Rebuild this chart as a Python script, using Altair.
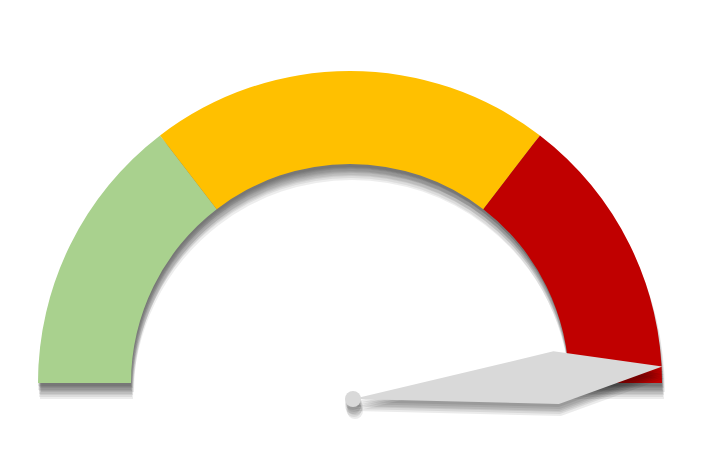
import math

import altair as alt
import pandas as pd

# gauge bands (values add up to the full half circle)
bands = ["Low", "Medium", "High"]
band_values = [35, 50, 35]
band_colors = ["#a9d18e", "#ffc000", "#c00000"]

# needle reading on the same 0..120 scale
needle_value = [116]

gauge = pd.DataFrame({"band": bands, "value": band_values, "idx": range(len(bands))})
needle = pd.DataFrame({"needle": needle_value})

# geometry (chart pixels)
CX, CY = 342, 375
R_OUT, R_IN = 312, 219
NX, NY = 345, 391
NEEDLE_LEN = 311
NEEDLE_PATH = "M0,0 L0.657,-0.085 L1,0 L0.657,0.085 Z"

theta = alt.Theta("value:Q", stack=True, scale=alt.Scale(range=[-math.pi / 2, math.pi / 2]))
order = alt.Order("idx:Q")
angle = alt.Angle("needle:Q", scale=alt.Scale(domain=[0, sum(band_values)], range=[180, 360]))

# blurred shadow = a pile of faint offset copies
arc_shadow = [(0, 3), (1, 4), (2, 5), (0, 7), (1, 8), (3, 9), (1, 11), (2, 12), (1, 14), (2, 16)]
needle_shadow = [(0, 3), (1, 5), (0, 7), (2, 8), (1, 10), (2, 12)]

layers = []

for dx, dy in arc_shadow:
    layers.append(
        alt.Chart(gauge).mark_arc(radius=R_OUT, radius2=R_IN, color="black", opacity=0.07).encode(
            theta=theta, order=order, x=alt.value(CX + dx), y=alt.value(CY + dy)
        )
    )

layers.append(
    alt.Chart(gauge).mark_arc(radius=R_OUT, radius2=R_IN).encode(
        theta=theta,
        order=order,
        color=alt.Color("band:N", scale=alt.Scale(domain=bands, range=band_colors), legend=None),
        x=alt.value(CX),
        y=alt.value(CY),
    )
)

for dx, dy in needle_shadow:
    layers.append(
        alt.Chart(needle).mark_point(
            shape=NEEDLE_PATH, filled=True, color="black", opacity=0.08, strokeWidth=0,
            size=(2 * NEEDLE_LEN) ** 2,
        ).encode(angle=angle, x=alt.value(NX + dx), y=alt.value(NY + dy))
    )
    layers.append(
        alt.Chart(needle).mark_point(
            shape="circle", filled=True, color="black", opacity=0.08, strokeWidth=0, size=256
        ).encode(x=alt.value(NX + dx), y=alt.value(NY + dy))
    )

layers.append(
    alt.Chart(needle).mark_point(
        shape=NEEDLE_PATH, filled=True, color="#d9d9d9", opacity=1, strokeWidth=0,
        size=(2 * NEEDLE_LEN) ** 2,
    ).encode(angle=angle, x=alt.value(NX), y=alt.value(NY))
)
layers.append(
    alt.Chart(needle).mark_point(
        shape="circle", filled=True, color="#d9d9d9", opacity=1, strokeWidth=0, size=256
    ).encode(x=alt.value(NX), y=alt.value(NY))
)

chart = alt.layer(*layers).properties(
    width=699, height=442, padding=0, autosize=alt.AutoSizeParams(type="none")
).configure_view(stroke=None)

chart.save("out.html", embed_options={"renderer": "svg", "actions": False})
